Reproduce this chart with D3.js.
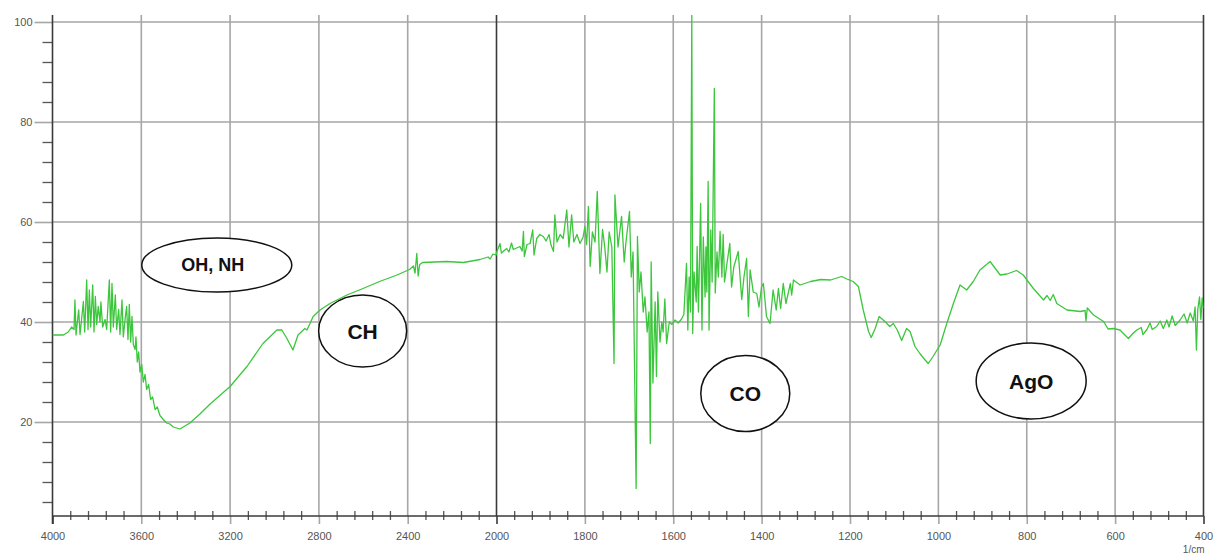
<!DOCTYPE html>
<html>
<head>
<meta charset="utf-8">
<script src="https://cdn.jsdelivr.net/npm/d3@7/dist/d3.min.js"></script>
<style>
  html, body { margin: 0; padding: 0; background: #fff; }
  svg { display: block; }
  text { font-family: "Liberation Sans", Arial, sans-serif; }
</style>
</head>
<body>
<svg id="chart" width="1215" height="554"></svg>
<script>
// ---- data ----
const wavenumber = [
  4000,3996,3951,3929,3914,3903,3899,3894,3888,3882,3876,3869,3861,3855,3846,3840,3834,3828,3819,3813,
  3807,3801,3794,3786,3782,3774,3763,3756,3744,3738,3732,3726,3717,3711,3702,3696,3687,3681,3672,3666,
  3660,3654,3648,3642,3636,3628,3624,3618,3612,3606,3598,3591,3583,3576,3567,3558,3549,3538,3528,3516,
  3501,3486,3471,3456,3441,3426,3411,3381,3336,3290,3200,3124,3052,2989,2967,2944,2917,2894,2863,2854,
  2840,2826,2795,2750,2674,2601,2527,2448,2392,2374,2367,2359,2353,2346,2333,2224,2149,2074,2038,2029,
  2016,2002,1999,1992,1989,1977,1972,1966,1962,1947,1942,1939,1937,1931,1924,1918,1915,1909,1902,1894,
  1888,1881,1877,1871,1868,1863,1856,1849,1841,1836,1830,1825,1818,1811,1804,1800,1796,1792,1788,1783,
  1777,1772,1766,1760,1755,1750,1745,1739,1734,1732,1725,1717,1711,1707,1699,1695,1691,1684,1681,1677,
  1673,1668,1664,1659,1655,1652,1650,1646,1641,1638,1635,1630,1626,1623,1619,1615,1609,1603,1596,1589,
  1582,1576,1570,1567,1564,1561,1558,1556,1553,1548,1546,1543,1538,1535,1532,1528,1526,1524,1521,1519,
  1515,1512,1507,1505,1501,1498,1494,1490,1487,1484,1478,1472,1468,1463,1453,1445,1440,1434,1430,1426,
  1419,1411,1406,1400,1396,1389,1381,1374,1367,1362,1357,1351,1345,1335,1332,1328,1313,1289,1266,1244,
  1219,1207,1193,1181,1170,1158,1152,1143,1134,1121,1110,1102,1093,1083,1072,1064,1053,1042,1030,1023,
  1012,996,981,966,951,936,921,906,883,860,845,823,808,785,762,754,747,740,732,709,
  679,668,666,663,649,626,616,604,589,570,561,551,541,537,528,521,516,506,498,491,
  483,478,471,464,453,444,437,430,423,419,416,413,409,406,403,400
];
const transmittance = [
  37.4,37.4,37.4,38.0,39.0,38.5,44.4,37.4,40,42.4,37.5,40.5,44.1,38,48.4,38.5,46.4,39,47.4,38,
  45.1,39.5,43.1,40,44,39,40.5,38.5,48.4,38,47.7,39,45.4,38.5,42.5,37.5,44.4,37,41,43.1,
  36.5,43.5,36,41.1,35.5,34.5,37,32,34,30,31.5,28,29.5,26.5,27.5,24.5,25,22.5,23,21.3,
  20.5,19.8,19.6,19.0,18.8,18.6,19.0,19.8,21.6,23.6,27.1,31.1,35.7,38.4,38.4,36.7,34.4,37.4,38.7,38.4,
  39.7,41.1,42.4,43.7,45.4,46.7,48.1,49.4,50.5,51.2,49.8,53.7,49.2,51.5,51.9,52.1,51.9,52.5,53.0,52.6,
  53.6,53.4,54.1,55.7,53.8,54.7,54.0,55.8,54.5,55.1,54.2,58.1,53.1,55.5,55.7,58.4,53.4,56.7,57.5,57.1,
  56.2,57.5,55.5,54.1,61.4,56,57.5,56.7,62.4,55,61.4,56,57.5,55.7,57,59.1,55.5,63.1,51.1,58,
  56,66.1,49.7,58.5,55,50,58,55,31.7,65.4,55,61.1,52,56,62.1,49,54,6.7,57.1,46,
  50,42,45,38,42,15.7,52,27.8,44,29.1,46,36,40,38,44.6,35.7,40,39.5,40.4,39.8,
  40.5,41.5,51.7,38.4,49,42,101.5,37.7,50,44,55.1,42,63.7,38.4,57,45,55,46,68.1,38.4,
  58.4,48,86.7,45.8,54,49,58.1,49,57.5,48,52,55.7,47,51,54.1,44.5,49,52.7,41.1,50.4,
  46,45.7,43,47.1,47.7,41.1,39.7,46.4,42.4,46.7,42.7,47.7,43.7,47.7,45.4,48.4,47.4,48.1,48.5,48.4,
  49.1,48.6,48.1,47.1,42.4,38.1,36.9,38.7,41.1,40.1,39.1,39.7,38.4,36.3,38.7,38.1,35.1,33.7,32.4,31.7,
  33.1,35.4,39.7,43.7,47.4,46.4,48.1,50.4,52.1,49.4,49.6,50.3,49.4,46.7,44.4,45.3,44.3,45.5,43.7,42.4,
  42.1,42.3,40.2,42.8,41.4,40.1,38.6,38.7,38.4,36.7,37.6,38.4,38.9,37.5,38.5,39.8,38.5,39.1,40.2,38.7,
  40.4,39.0,41.2,39.3,40.4,41.6,39.8,41.8,40.2,43.0,34.4,42.5,45.0,40.5,44.8,42.8
];
const xMajorTicks = [4000,3600,3200,2800,2400,2000,1800,1600,1400,1200,1000,800,600,400];
const yMajorTicks = [20,40,60,80,100];
const xUnitLabel = "1/cm";
const annotationLabels = ["OH, NH","CH","CO","AgO"];
const annotationWavenumbers = [3260, 2603, 1437, 790];
const annotationValues = [51.4, 38.2, 25.7, 28.2];

// ---- layout ----
const svg = d3.select("#chart");
const pLeft = 52.5, pRight = 1203.5, pTop = 15, pBottom = 516;

// Split-scale wavenumber axis: 4000-2000 at half scale, 2000-400 at full scale
const x = d3.scaleLinear().domain([4000, 2000, 400]).range([pLeft, 496.5, pRight]);
const y = d3.scaleLinear().domain([1.2, 101.4]).range([pBottom, pTop]);

const xMinor = [];
for (let w = 4000; w >= 2000; w -= 80) if (!xMajorTicks.includes(w)) xMinor.push(w);
for (let w = 2000; w >= 400; w -= 40) if (!xMajorTicks.includes(w)) xMinor.push(w);
const yMinor = [];
for (let v = 4; v <= 100; v += 4) if (!yMajorTicks.includes(v)) yMinor.push(v);

const gridColor = "#a6a6a6";
const darkColor = "#3a3a3a";

// horizontal gridlines
svg.append("g").selectAll("line").data(yMajorTicks).join("line")
  .attr("x1", pLeft).attr("x2", pRight)
  .attr("y1", d => y(d)).attr("y2", d => y(d))
  .attr("stroke", gridColor).attr("stroke-width", 1.6);

// vertical gridlines
svg.append("g").selectAll("line").data(xMajorTicks.filter(d => d !== 4000)).join("line")
  .attr("x1", d => x(d)).attr("x2", d => x(d))
  .attr("y1", pTop).attr("y2", pBottom)
  .attr("stroke", d => (d === 2000 || d === 400) ? darkColor : gridColor)
  .attr("stroke-width", 1.6);

// y axis (major)
const yAxisG = svg.append("g").attr("transform", `translate(${pLeft},0)`)
  .call(d3.axisLeft(y).tickValues(yMajorTicks).tickSize(18).tickPadding(2).tickSizeOuter(0));
yAxisG.select(".domain").remove();
yAxisG.selectAll(".tick line").attr("stroke", gridColor).attr("stroke-width", 1.6);
yAxisG.selectAll(".tick text").attr("fill", "#555").style("font-size", "11px")
  .style("font-family", "'Liberation Sans', Arial, sans-serif");

// y axis (minor)
const yMinorG = svg.append("g").attr("transform", `translate(${pLeft},0)`)
  .call(d3.axisLeft(y).tickValues(yMinor).tickSize(10).tickFormat(""));
yMinorG.select(".domain").remove();
yMinorG.selectAll(".tick line").attr("stroke", "#555").attr("stroke-width", 1.3);

// x axis (major)
const xAxisG = svg.append("g").attr("transform", `translate(0,${pBottom})`)
  .call(d3.axisBottom(x).tickValues(xMajorTicks).tickSize(8).tickPadding(8).tickFormat(d3.format("d")));
xAxisG.select(".domain").remove();
xAxisG.selectAll(".tick line").attr("stroke", d => (d === 2000 || d === 400 || d === 4000) ? darkColor : gridColor).attr("stroke-width", 1.6);
xAxisG.selectAll(".tick text").attr("fill", "#555").style("font-size", "11px")
  .style("font-family", "'Liberation Sans', Arial, sans-serif");

// x axis (minor)
const xMinorG = svg.append("g").attr("transform", `translate(0,${pBottom - 5})`)
  .call(d3.axisBottom(x).tickValues(xMinor).tickSize(9).tickFormat(""));
xMinorG.select(".domain").remove();
xMinorG.selectAll(".tick line").attr("stroke", "#555").attr("stroke-width", 1.3);

// axis lines
svg.append("line").attr("x1", pLeft).attr("x2", pLeft).attr("y1", pTop).attr("y2", pBottom + 8)
  .attr("stroke", darkColor).attr("stroke-width", 1.6);
svg.append("line").attr("x1", pLeft).attr("x2", pRight).attr("y1", pBottom).attr("y2", pBottom)
  .attr("stroke", darkColor).attr("stroke-width", 1.6);

// unit label
svg.append("text").attr("x", pRight + 1).attr("y", 553).attr("text-anchor", "end")
  .attr("fill", "#555").style("font-size", "10px").text(xUnitLabel);

// annotation ellipses
const ellipseRx = [75, 44, 44.5, 55];
const ellipseRy = [27, 36, 38, 38];
const ellipseFont = [18, 21, 21, 21];
const ann = svg.append("g");
annotationLabels.forEach((lab, i) => {
  const cx = x(annotationWavenumbers[i]), cy = y(annotationValues[i]);
  ann.append("ellipse").attr("cx", cx).attr("cy", cy)
    .attr("rx", ellipseRx[i]).attr("ry", ellipseRy[i])
    .attr("fill", "#fff").attr("stroke", "#111").attr("stroke-width", 1.5);
  ann.append("text").attr("x", cx - (i === 0 ? 4 : 0)).attr("y", cy).attr("dy", "0.36em")
    .attr("text-anchor", "middle").attr("font-weight", "bold")
    .attr("fill", "#111").style("font-size", ellipseFont[i] + "px").text(lab);
});

// spectrum
svg.append("clipPath").attr("id", "plotclip").append("rect")
  .attr("x", pLeft).attr("y", pTop).attr("width", pRight - pLeft).attr("height", pBottom - pTop);
const pts = wavenumber.map((w, i) => [w, transmittance[i]]);
const line = d3.line().x(d => x(d[0])).y(d => y(d[1]));
svg.append("path").datum(pts)
  .attr("clip-path", "url(#plotclip)")
  .attr("d", line).attr("fill", "none")
  .attr("stroke", "#3cc63c").attr("stroke-width", 1.3).attr("stroke-linejoin", "round");
</script>
</body>
</html>
